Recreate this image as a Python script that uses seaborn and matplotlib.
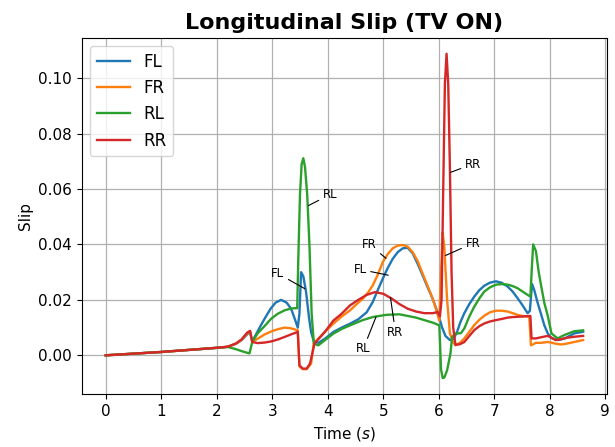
import matplotlib
matplotlib.use("Agg")
import matplotlib.pyplot as plt
import seaborn as sns

# ---- data ----
t_FL = [0, 1, 2, 2.2, 2.35, 2.45, 2.55, 2.6, 2.64, 2.72, 2.8, 2.88, 2.97, 3.06, 3.16, 3.26, 3.34, 3.4, 3.46,
        3.49, 3.52, 3.56, 3.61, 3.66, 3.7, 3.75, 3.83, 3.95, 4.1, 4.25, 4.4, 4.55, 4.7, 4.81, 4.9, 4.99, 5.08,
        5.17, 5.26, 5.35, 5.44, 5.53, 5.62, 5.71, 5.8, 5.89, 5.96, 6.01, 6.06, 6.12, 6.2, 6.27, 6.33, 6.39,
        6.46, 6.55, 6.64, 6.73, 6.82, 6.92, 7.03, 7.13, 7.24, 7.33, 7.42, 7.51, 7.6, 7.64, 7.68, 7.72, 7.78,
        7.84, 7.9, 7.96, 8.02, 8.14, 8.26, 8.44, 8.6]
v_FL = [0, 0.0012, 0.0027, 0.0031, 0.0042, 0.0055, 0.0076, 0.0085, 0.0050, 0.0080, 0.0110, 0.0138, 0.0168,
        0.0190, 0.0200, 0.0190, 0.0168, 0.0135, 0.0100, 0.0150, 0.0300, 0.0285, 0.0228, 0.0140, 0.0084,
        0.0050, 0.0045, 0.0060, 0.0084, 0.0100, 0.0114, 0.0130, 0.0155, 0.0192, 0.0235, 0.0276, 0.0315,
        0.0348, 0.0372, 0.0386, 0.0388, 0.0368, 0.0330, 0.0288, 0.0245, 0.0204, 0.0165, 0.0135, 0.0100,
        0.0070, 0.0055, 0.0060, 0.0085, 0.0120, 0.0152, 0.0185, 0.0212, 0.0235, 0.0251, 0.0262, 0.0267,
        0.0262, 0.0248, 0.0230, 0.0206, 0.0180, 0.0152, 0.0160, 0.0257, 0.0235, 0.0190, 0.0150, 0.0109,
        0.0080, 0.0063, 0.0055, 0.0060, 0.0079, 0.0085]

t_FR = [0, 1, 2, 2.2, 2.35, 2.45, 2.55, 2.6, 2.64, 2.74, 2.86, 2.98, 3.1, 3.22, 3.32, 3.4, 3.46, 3.49, 3.55,
        3.62, 3.7, 3.75, 3.83, 3.95, 4.1, 4.25, 4.4, 4.55, 4.63, 4.72, 4.81, 4.9, 4.99, 5.08, 5.17, 5.26,
        5.35, 5.44, 5.53, 5.62, 5.71, 5.8, 5.89, 5.96, 6.01, 6.04, 6.07, 6.1, 6.15, 6.2, 6.25, 6.3, 6.38,
        6.46, 6.55, 6.64, 6.73, 6.82, 6.92, 7.03, 7.13, 7.24, 7.33, 7.42, 7.51, 7.63, 7.66, 7.75, 7.84,
        7.96, 8.02, 8.1, 8.2, 8.3, 8.44, 8.6]
v_FR = [0, 0.0012, 0.0027, 0.0031, 0.0042, 0.0056, 0.0080, 0.0087, 0.0050, 0.0060, 0.0075, 0.0086, 0.0094,
        0.0100, 0.0098, 0.0094, 0.0090, -0.0040, -0.0050, -0.0050, -0.0030, 0.0045, 0.0060, 0.0085,
        0.0114, 0.0140, 0.0162, 0.0190, 0.0204, 0.0225, 0.0252, 0.0290, 0.0336, 0.0365, 0.0386, 0.0396,
        0.0398, 0.0392, 0.0372, 0.0340, 0.0294, 0.0250, 0.0204, 0.0160, 0.0125, 0.0300, 0.0443, 0.0390,
        0.0200, 0.0080, 0.0050, 0.0036, 0.0045, 0.0061, 0.0085, 0.0109, 0.0128, 0.0143, 0.0155, 0.0161,
        0.0161, 0.0158, 0.0152, 0.0146, 0.0142, 0.0139, 0.0036, 0.0045, 0.0045, 0.0048, 0.0046, 0.0042,
        0.0039, 0.0042, 0.0048, 0.0055]

t_RL = [0, 1, 2, 2.2, 2.35, 2.45, 2.55, 2.59, 2.64, 2.74, 2.86, 2.98, 3.1, 3.22, 3.32, 3.4, 3.45, 3.47, 3.5,
        3.53, 3.56, 3.59, 3.63, 3.67, 3.71, 3.75, 3.83, 3.95, 4.1, 4.25, 4.4, 4.63, 4.81, 5.05, 5.29, 5.59,
        5.89, 6.01, 6.04, 6.07, 6.1, 6.15, 6.21, 6.24, 6.3, 6.4, 6.46, 6.55, 6.64, 6.73, 6.82, 6.92, 7.03,
        7.13, 7.24, 7.33, 7.42, 7.51, 7.6, 7.65, 7.68, 7.7, 7.75, 7.8, 7.84, 7.9, 7.96, 8.03, 8.14, 8.26,
        8.44, 8.6]
v_RL = [0, 0.0012, 0.0027, 0.0030, 0.0022, 0.0015, 0.0009, 0.0007, 0.0048, 0.0080, 0.0105, 0.0132, 0.0150,
        0.0162, 0.0168, 0.0170, 0.0170, 0.0350, 0.0580, 0.0690, 0.0711, 0.0680, 0.0580, 0.0400, 0.0150,
        0.0042, 0.0036, 0.0055, 0.0078, 0.0095, 0.0108, 0.0127, 0.0138, 0.0146, 0.0148, 0.0136, 0.0118,
        0.0108, -0.0050, -0.0082, -0.0080, -0.0054, 0.0006, 0.0066, 0.0078, 0.0080, 0.0097, 0.0140,
        0.0176, 0.0205, 0.0230, 0.0245, 0.0255, 0.0257, 0.0255, 0.0250, 0.0242, 0.0230, 0.0218, 0.0212,
        0.0330, 0.0400, 0.0376, 0.0300, 0.0255, 0.0190, 0.0145, 0.0079, 0.0061, 0.0073, 0.0087, 0.0090]

t_RR = [0, 1, 2, 2.2, 2.35, 2.45, 2.55, 2.6, 2.64, 2.74, 2.86, 2.98, 3.1, 3.22, 3.32, 3.4, 3.46, 3.49, 3.55,
        3.62, 3.68, 3.72, 3.76, 3.83, 3.95, 4.1, 4.25, 4.4, 4.55, 4.7, 4.85, 5.0, 5.15, 5.29, 5.44, 5.59,
        5.74, 5.89, 5.98, 6.02, 6.05, 6.08, 6.11, 6.14, 6.17, 6.2, 6.23, 6.26, 6.3, 6.38, 6.46, 6.55, 6.64,
        6.73, 6.82, 6.92, 7.03, 7.13, 7.24, 7.33, 7.42, 7.51, 7.65, 7.67, 7.75, 7.84, 7.96, 8.02, 8.1, 8.2,
        8.3, 8.44, 8.6]
v_RR = [0, 0.0012, 0.0027, 0.0031, 0.0043, 0.0058, 0.0082, 0.0088, 0.0048, 0.0044, 0.0046, 0.0050, 0.0057,
        0.0066, 0.0074, 0.0080, 0.0085, -0.0036, -0.0048, -0.0048, -0.0030, 0.0005, 0.0042, 0.0058,
        0.0085, 0.0125, 0.0150, 0.0180, 0.0200, 0.0218, 0.0228, 0.0222, 0.0205, 0.0185, 0.0168, 0.0158,
        0.0152, 0.0152, 0.0156, 0.0140, 0.0200, 0.0600, 0.0980, 0.1088, 0.0980, 0.0680, 0.0300, 0.0100,
        0.0038, 0.0040, 0.0048, 0.0070, 0.0091, 0.0105, 0.0115, 0.0122, 0.0127, 0.0131, 0.0136, 0.0138,
        0.0139, 0.0140, 0.0142, 0.0061, 0.0061, 0.0065, 0.0070, 0.0065, 0.0055, 0.0058, 0.0063, 0.0067,
        0.0070]

series_names = ["FL", "FR", "RL", "RR"]
series_colors = ["#1f77b4", "#ff7f0e", "#2ca02c", "#d62728"]

# annotations: label, point on curve, text position, alignment
ann_labels = ["RL", "RR", "FL", "FR", "FL", "RR", "RL", "FR"]
ann_xy = [(3.65, 0.054), (6.21, 0.066), (3.59, 0.024), (5.05, 0.035),
          (5.09, 0.0289), (5.13, 0.0208), (4.87, 0.0139), (6.12, 0.036)]
ann_text = [(3.91, 0.058), (6.47, 0.069), (3.22, 0.0295), (4.88, 0.040),
            (4.70, 0.031), (5.22, 0.0083), (4.64, 0.0023), (6.48, 0.0404)]
ann_ha = ["left", "left", "right", "right", "right", "center", "center", "left"]

# ---- plot ----
fig, ax = plt.subplots(figsize=(6.15, 4.47), dpi=100)
fig.subplots_adjust(left=0.133, right=0.987, bottom=0.118, top=0.916)

data = [(t_FL, v_FL), (t_FR, v_FR), (t_RL, v_RL), (t_RR, v_RR)]
for (tt, vv), name, col in zip(data, series_names, series_colors):
    sns.lineplot(x=tt, y=vv, ax=ax, color=col, label=name, linewidth=1.7,
                 estimator=None, errorbar=None)

for lab, xy, xt, ha in zip(ann_labels, ann_xy, ann_text, ann_ha):
    ax.annotate(lab, xy=xy, xytext=xt, ha=ha, va="center", fontsize=8.5,
                arrowprops=dict(arrowstyle="-", color="black", lw=0.8,
                                shrinkA=1, shrinkB=0))

ax.set_xticks(range(0, 10))
ax.grid(True, color="#b0b0b0", linewidth=0.9)
ax.tick_params(labelsize=11)
ax.set_title("Longitudinal Slip (TV ON)", fontsize=16, fontweight="bold")
ax.set_xlabel("Time ($s$)", fontsize=11)
ax.set_ylabel("Slip", fontsize=11)
ax.legend(loc="upper left", fontsize=12)

fig.savefig("out.png", dpi=100)
